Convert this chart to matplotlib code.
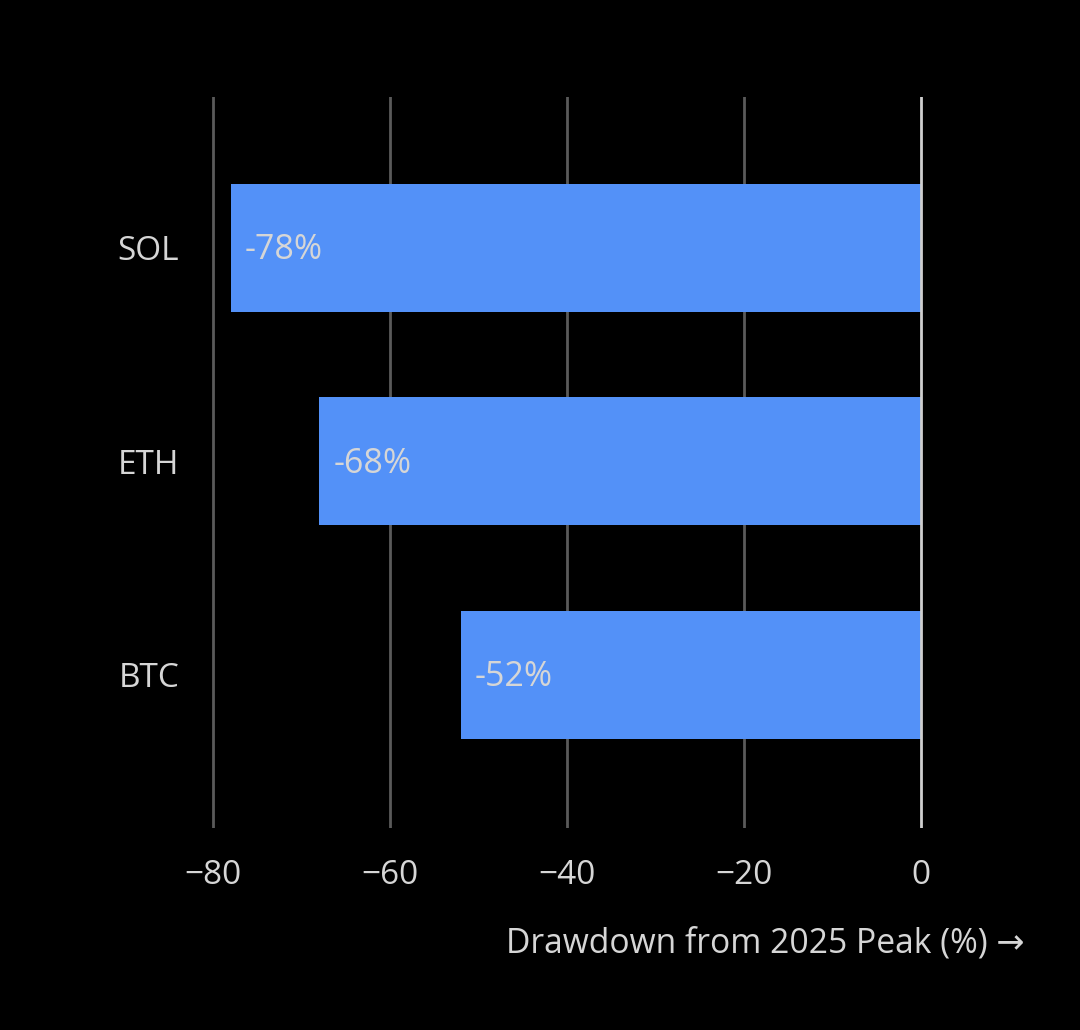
import matplotlib
matplotlib.use("Agg")
import matplotlib.pyplot as plt

categories = ["BTC", "ETH", "SOL"]
drawdowns = [-52, -68, -78]
xticks = [-80, -60, -40, -20, 0]
xlabel = "Drawdown from 2025 Peak (%) →"

plt.rcParams['font.family'] = ['Open Sans', 'DejaVu Sans']
W, H = 1080, 1030
fig = plt.figure(figsize=(W/100, H/100), dpi=100, facecolor='black')

xl = (-81, 1)
ppu = (921 - 213) / 80
left_px = 213 + (xl[0] - (-80)) * ppu
right_px = 921 + xl[1] * ppu
top_px, bot_px = 97, 828
ax = fig.add_axes([left_px / W, 1 - bot_px / H, (right_px - left_px) / W, (bot_px - top_px) / H])
ax.set_facecolor('black')

ypos = list(range(len(categories)))
ax.barh(ypos, drawdowns, height=0.6, color='#5391F8', zorder=2)
for y, v in zip(ypos, drawdowns):
    ax.text(v + 1.6, y - 0.01, f"{v}%", color='#d6d6d6', va='center', ha='left', fontsize=24.5, zorder=3)

ax.set_xlim(*xl)
ax.set_ylim(-0.717, 2.707)
ax.set_yticks(ypos)
ax.set_yticklabels(categories)
ax.set_xticks(xticks)
ax.set_xticklabels([str(t).replace('-', '\u2212') for t in xticks])
for t in xticks:
    if t == 0:
        ax.axvline(t, color='#cfcfcf', lw=2, zorder=4)
    else:
        ax.axvline(t, color='#5a5a5a', lw=2, zorder=1)
for s in ax.spines.values():
    s.set_visible(False)
ax.tick_params(axis='both', length=0, colors='#d6d6d6', labelsize=24)
ax.tick_params(axis='y', pad=18)
ax.tick_params(axis='x', pad=22)

fig.text(1025 / W, 1 - 943 / H, xlabel, color='#d6d6d6', fontsize=24.2, ha='right', va='center')

fig.savefig('out.png', dpi=100, facecolor='black')
